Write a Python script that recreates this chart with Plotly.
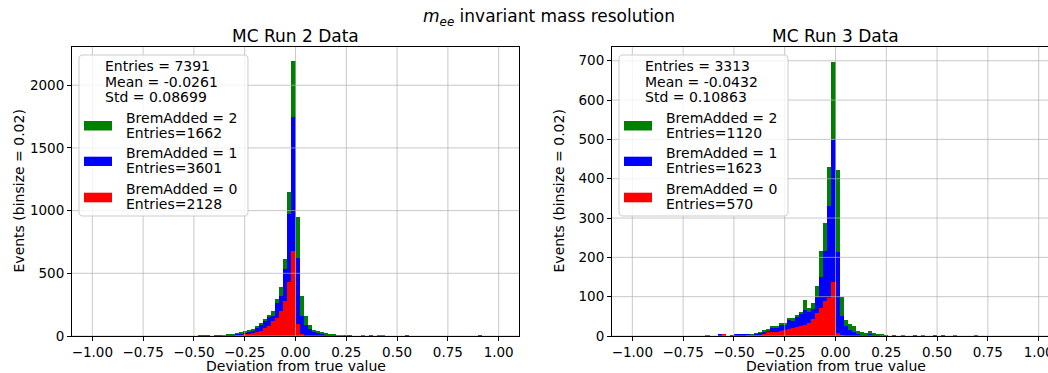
import plotly.graph_objects as go

# ---------------- data ----------------
BIN = 0.02

run2_edges = [-0.48, -0.46, -0.44, -0.42, -0.40, -0.38, -0.36, -0.34, -0.32, -0.30,
              -0.28, -0.26, -0.24, -0.22, -0.20, -0.18, -0.16, -0.14, -0.12, -0.10,
              -0.08, -0.06, -0.04, -0.02, 0.00, 0.02, 0.04, 0.06, 0.08, 0.10,
              0.12, 0.14, 0.16, 0.18, 0.20, 0.22, 0.24, 0.26, 0.32, 0.36,
              0.40, 0.42, 0.54, 0.90]
run2_brem0 = [0, 0, 0, 0, 2, 3, 3, 5, 6, 8,
              10, 18, 19, 21, 32, 40, 62, 80, 120, 145,
              203, 283, 429, 680, 93, 13, 3, 2, 1, 0,
              0, 0, 0, 0, 0, 0, 0, 0, 0, 0,
              0, 0, 0, 0]
run2_brem1 = [4, 3, 4, 0, 3, 3, 4, 5, 6, 8,
              10, 9, 16, 24, 34, 48, 58, 70, 43, 120,
              120, 253, 541, 1070, 527, 150, 85, 51, 34, 28,
              20, 14, 10, 8, 6, 6, 4, 3, 0, 3,
              0, 0, 3, 3]
run2_brem2 = [0, 0, 0, 0, 0, 0, 1, 2, 2, 3,
              4, 8, 5, 8, 9, 10, 13, 20, 40, 32,
              66, 79, 182, 440, 327, 160, 75, 32, 10, 7,
              7, 5, 3, 2, 2, 1, 0, 0, 3, 0,
              3, 2, 0, 0]

run3_edges = [-0.64, -0.58, -0.56, -0.52, -0.50, -0.48, -0.46, -0.44, -0.42, -0.40,
              -0.38, -0.36, -0.34, -0.32, -0.30, -0.28, -0.26, -0.24, -0.22, -0.20,
              -0.18, -0.16, -0.14, -0.12, -0.10, -0.08, -0.06, -0.04, -0.02, 0.00,
              0.02, 0.04, 0.06, 0.08, 0.10, 0.12, 0.14, 0.16, 0.18, 0.20,
              0.22, 0.24, 0.28, 0.32, 0.38, 0.42, 0.48, 0.52, 0.58, 0.68]
run3_brem0 = [0, 2, 3, 1, 2, 2, 2, 3, 3, 4,
              5, 5, 12, 9, 10, 14, 16, 18, 20, 22,
              25, 28, 32, 42, 58, 70, 88, 96, 138, 8,
              2, 1, 0, 0, 0, 0, 0, 0, 0, 0,
              0, 0, 0, 0, 0, 0, 0, 0, 0, 0]
run3_brem1 = [0, 1, 0, 1, 1, 1, 2, 1, 1, 2,
              3, 7, 3, 13, 12, 14, 14, 24, 20, 26,
              30, 37, 30, 26, 42, 80, 127, 234, 360, 206,
              48, 24, 15, 10, 6, 5, 4, 5, 3, 3,
              2, 2, 2, 0, 2, 0, 2, 2, 0, 0]
run3_brem2 = [2, 0, 0, 0, 0, 0, 0, 0, 1, 1,
              1, 2, 1, 3, 3, 3, 3, 3, 5, 6,
              7, 27, 8, 17, 27, 66, 72, 100, 198, 207,
              50, 15, 15, 15, 6, 5, 3, 7, 5, 1,
              1, 0, 0, 2, 0, 2, 0, 0, 2, 2]

panel_titles = ["MC Run 2 Data", "MC Run 3 Data"]
stat_lines = [["Entries = 7391", "Mean = -0.0261", "Std = 0.08699"],
              ["Entries = 3313", "Mean = -0.0432", "Std = 0.10863"]]
legend_labels = [[("BremAdded = 2", "Entries=1662"), ("BremAdded = 1", "Entries=3601"),
                  ("BremAdded = 0", "Entries=2128")],
                 [("BremAdded = 2", "Entries=1120"), ("BremAdded = 1", "Entries=1623"),
                  ("BremAdded = 0", "Entries=570")]]
x_ticks = [-1.0, -0.75, -0.5, -0.25, 0.0, 0.25, 0.5, 0.75, 1.0]
y_ticks = [[0, 500, 1000, 1500, 2000], [0, 100, 200, 300, 400, 500, 600, 700]]

COLORS = {"0": "#ff0000", "1": "#0000ff", "2": "#008000"}

# ---------------- layout helpers ----------------
W, H = 1048, 373
FONT = "DejaVu Sans"


def px(x):
    return x / W


def py(y):
    return 1 - y / H


fig = go.Figure()

panels = [
    dict(edges=run2_edges, series=[run2_brem0, run2_brem1, run2_brem2], xa="x", ya="y"),
    dict(edges=run3_edges, series=[run3_brem0, run3_brem1, run3_brem2], xa="x2", ya="y2"),
]

for p in panels:
    centers = [e + BIN / 2 for e in p["edges"]]
    for key, vals in zip(["0", "1", "2"], p["series"]):
        fig.add_trace(go.Bar(
            x=centers, y=vals, width=BIN,
            marker=dict(color=COLORS[key], line=dict(width=0)),
            xaxis=p["xa"], yaxis=p["ya"], showlegend=False,
            name=f"BremAdded = {key}",
        ))

ydom = [(H - 336) / H, (H - 47) / H]
x_left = [72, 612]
x_right = [519, W]
scale = (519 - 72) / 2.2  # px per unit
zero_px = [72 + 1.1 * scale, 612 + 1.1 * scale]
xranges = [[-1.1, 1.1], [-1.1, (W - zero_px[1]) / scale]]
yranges = [[0, 2305], [0, 735]]

axis_common = dict(
    ticks="outside", ticklen=4, tickwidth=1, tickcolor="black",
    showline=True, linecolor="black", linewidth=1,
    showgrid=False, zeroline=False, automargin=False,
    tickfont=dict(family=FONT, size=13.5, color="black"),
    layer="above traces",
)

for i in range(2):
    sx = "" if i == 0 else "2"
    fig.update_layout(**{
        f"xaxis{sx}": dict(domain=[px(x_left[i]), px(x_right[i])], range=xranges[i],
                           tickvals=x_ticks, tickformat=".2f", anchor=f"y{sx}",
                           mirror=True, ticklabeloverflow="allow", **axis_common),
        f"yaxis{sx}": dict(domain=ydom, range=yranges[i], tickvals=y_ticks[i],
                           anchor=f"x{sx}", mirror=(i == 0), **axis_common),
    })

shapes = []
annotations = []
grid_col = "rgba(176,176,176,0.7)"

for i in range(2):
    sx = "" if i == 0 else "2"
    for v in x_ticks:
        shapes.append(dict(type="line", xref=f"x{sx}", yref=f"y{sx} domain",
                           x0=v, x1=v, y0=0, y1=1, layer="above",
                           line=dict(color=grid_col, width=1)))
    for v in y_ticks[i]:
        shapes.append(dict(type="line", xref=f"x{sx} domain", yref=f"y{sx}",
                           x0=0, x1=1, y0=v, y1=v, layer="above",
                           line=dict(color=grid_col, width=1)))


def P(x, y):
    return f"{px(x):.5f},{py(y):.5f}"


for i in range(2):
    off = 540 * i
    x0, x1, y0, y1, r = 79 + off, 248 + off, 55, 216, 4
    path = (f"M {P(x0 + r, y0)} L {P(x1 - r, y0)} Q {P(x1, y0)} {P(x1, y0 + r)} "
            f"L {P(x1, y1 - r)} Q {P(x1, y1)} {P(x1 - r, y1)} L {P(x0 + r, y1)} "
            f"Q {P(x0, y1)} {P(x0, y1 - r)} L {P(x0, y0 + r)} Q {P(x0, y0)} {P(x0 + r, y0)} Z")
    shapes.append(dict(type="path", xref="paper", yref="paper", path=path, layer="above",
                       fillcolor="rgba(255,255,255,0.8)", line=dict(color="#cccccc", width=1)))
    for j, (txt, yc) in enumerate(zip(stat_lines[i], [66, 81.7, 97.3])):
        annotations.append(dict(text=txt, xref="paper", yref="paper", x=px(103 + off), y=py(yc),
                                xanchor="left", yanchor="middle", showarrow=False,
                                font=dict(family=FONT, size=14, color="black")))
    patch_y = [(121, 130.5), (156.7, 166), (192.7, 202.3)]
    label_y = [(118.3, 133.3), (153.3, 168.3), (188.5, 204)]
    for k, key in enumerate(["2", "1", "0"]):
        ya, yb = patch_y[k]
        shapes.append(dict(type="rect", xref="paper", yref="paper",
                           x0=px(84 + off), x1=px(112 + off), y0=py(yb), y1=py(ya),
                           layer="above", fillcolor=COLORS[key], line=dict(width=0)))
        for txt, yc in zip(legend_labels[i][k], label_y[k]):
            annotations.append(dict(text=txt, xref="paper", yref="paper", x=px(124 + off), y=py(yc),
                                    xanchor="left", yanchor="middle", showarrow=False,
                                    font=dict(family=FONT, size=14, color="black")))
    annotations.append(dict(text=panel_titles[i], xref="paper", yref="paper",
                            x=px(x_left[i] + 447 / 2), y=py(36),
                            xanchor="center", yanchor="middle", showarrow=False,
                            font=dict(family=FONT, size=17, color="black")))
    annotations.append(dict(text="Deviation from true value", xref="paper", yref="paper",
                            x=px(zero_px[i]), y=py(366), xanchor="center", yanchor="middle",
                            borderpad=0, showarrow=False,
                            font=dict(family=FONT, size=14, color="black")))
    annotations.append(dict(text="Events (binsize = 0.02)", xref="paper", yref="paper",
                            x=px(18 + 540 * i), y=py(191.5), xanchor="center", yanchor="middle",
                            textangle=-90, showarrow=False,
                            font=dict(family=FONT, size=14, color="black")))

annotations.append(dict(text="<i>m</i><sub><i>ee</i></sub> invariant mass resolution",
                        xref="paper", yref="paper", x=px(549), y=py(17),
                        xanchor="center", yanchor="middle", showarrow=False,
                        font=dict(family=FONT, size=17, color="black")))

fig.update_layout(
    width=W, height=H,
    margin=dict(l=0, r=0, t=0, b=0, pad=0, autoexpand=False),
    paper_bgcolor="white", plot_bgcolor="white",
    barmode="stack", bargap=0,
    showlegend=False,
    shapes=shapes, annotations=annotations,
    font=dict(family=FONT, color="black"),
)

fig.write_html("out.html")
